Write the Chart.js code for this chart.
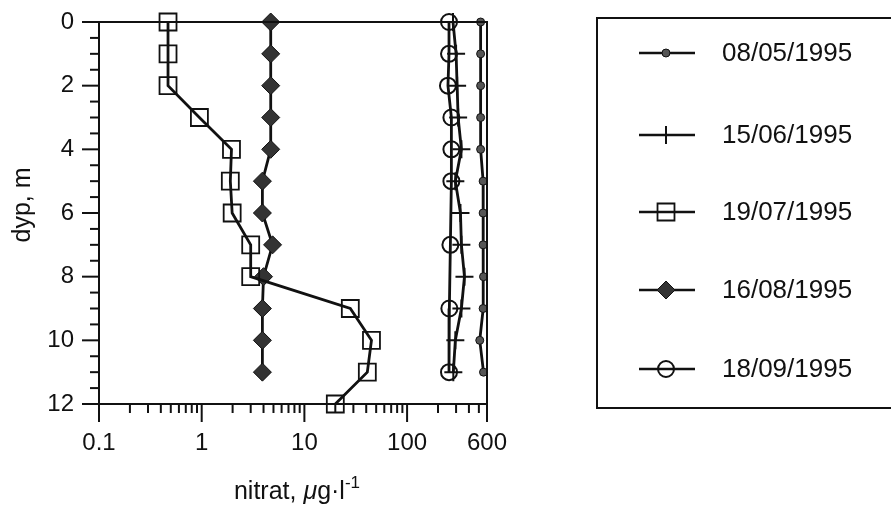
<!DOCTYPE html>
<html>
<head>
  <title>Nitrat depth profile</title>
  <script src="https://cdn.jsdelivr.net/npm/chart.js"></script>
  <style>
    html, body {
      margin: 0;
      padding: 0;
      background: #fff;
    }
    .chart-container {
      width: 891px;
      height: 509px;
    }
  </style>
</head>
<body>
  <div class="chart-container">
    <canvas id="myChart" width="891" height="509"></canvas>
  </div>
  <script>
    // depth in m, one value per metre
    const depths = [0, 1, 2, 3, 4, 5, 6, 7, 8, 9, 10, 11, 12];
    const may08 = [520, 520, 520, 520, 520, 550, 550, 550, 555, 550, 510, 555];
    const jun15 = [280, 300, 307, 314, 338, 295, 331, 338, 362, 338, 295, 282];
    const jul19 = [0.47, 0.47, 0.47, 0.95, 1.95, 1.9, 1.98, 3, 3, 28, 45, 41, 20];
    const aug16 = [4.7, 4.7, 4.7, 4.7, 4.7, 3.9, 3.9, 4.9, 4.0, 3.9, 3.9, 3.9];
    // september was not sampled at every depth
    const sep18Depths = [0, 1, 2, 3, 4, 5, 7, 9, 11];
    const sep18 = [256, 256, 250, 270, 270, 270, 264, 258, 256];
    const seriesNames = ['08/05/1995', '15/06/1995', '19/07/1995', '16/08/1995', '18/09/1995'];
    const xTickLabels = [0.1, 1, 10, 100, 600];
    const yTickLabels = [0, 2, 4, 6, 8, 10, 12];

    const ink = '#111';
    const fontFamily = '"Liberation Sans", Arial, sans-serif';
    Chart.defaults.font.family = fontFamily;
    Chart.defaults.color = ink;

    function toPoints(values, d) {
      return values.map((v, i) => ({ x: v, y: d[i] }));
    }

    function series(name, values, d, style) {
      return Object.assign({
        label: name,
        data: toPoints(values, d),
        showLine: true,
        borderColor: ink,
        borderWidth: 2.8,
        pointBorderColor: ink,
        tension: 0,
        clip: false
      }, style);
    }

    const datasets = [
      series(seriesNames[0], may08, depths, { pointStyle: 'circle', pointRadius: 4, pointBackgroundColor: '#555', pointBorderWidth: 1 }),
      series(seriesNames[1], jun15, depths, { pointStyle: 'cross', pointRadius: 9, pointBackgroundColor: ink, pointBorderWidth: 2 }),
      series(seriesNames[2], jul19, depths, { pointStyle: 'rect', pointRadius: 12, pointBackgroundColor: 'rgba(0,0,0,0)', pointBorderWidth: 1.8 }),
      series(seriesNames[3], aug16, depths, { pointStyle: 'rectRot', pointRadius: 9, pointBackgroundColor: '#333', pointBorderWidth: 1 }),
      series(seriesNames[4], sep18, sep18Depths, { pointStyle: 'circle', pointRadius: 8, pointBackgroundColor: 'rgba(0,0,0,0)', pointBorderWidth: 2 })
    ];

    function stroke(ctx, x1, y1, x2, y2) {
      ctx.beginPath();
      ctx.moveTo(x1, y1);
      ctx.lineTo(x2, y2);
      ctx.stroke();
    }

    // frame, tick marks, x title and the boxed legend
    const extras = {
      id: 'extras',
      afterDraw(chart) {
        const { ctx, chartArea: a, scales: { x, y } } = chart;
        ctx.save();
        ctx.strokeStyle = ink;
        ctx.lineWidth = 2;
        ctx.strokeRect(a.left, a.top, a.right - a.left, a.bottom - a.top);

        for (let d = 0; d <= 12; d += 0.5) {
          const py = y.getPixelForValue(d);
          stroke(ctx, a.left - (d % 2 === 0 ? 17 : 9), py, a.left, py);
        }
        for (let e = -1; e <= 2; e++) {
          for (let m = 1; m <= 9; m++) {
            const v = m * Math.pow(10, e);
            if (v > 600) break;
            const px = x.getPixelForValue(v);
            stroke(ctx, px, a.bottom, px, a.bottom + (m === 1 ? 18 : 9));
          }
        }
        const p600 = x.getPixelForValue(600);
        stroke(ctx, p600, a.bottom, p600, a.bottom + 18);

        // y title, placed by hand a bit above the axis centre
        ctx.save();
        ctx.translate(23, 205);
        ctx.rotate(-Math.PI / 2);
        ctx.font = '25px ' + fontFamily;
        ctx.fillStyle = ink;
        ctx.textAlign = 'center';
        ctx.textBaseline = 'middle';
        ctx.fillText('dyp, m', 0, 0);
        ctx.restore();

        // x title with italic mu and superscript
        const parts = [
          ['nitrat, ', '25px ' + fontFamily, 0],
          ['\u03bc', 'italic 25px ' + fontFamily, 0],
          ['g\u00b7l', '25px ' + fontFamily, 0],
          ['-1', '17px ' + fontFamily, -11]
        ];
        let w = 0;
        parts.forEach(p => { ctx.font = p[1]; w += ctx.measureText(p[0]).width; });
        let tx = (a.left + a.right) / 2 + 4 - w / 2;
        ctx.fillStyle = ink;
        ctx.textBaseline = 'alphabetic';
        ctx.textAlign = 'left';
        parts.forEach(p => {
          ctx.font = p[1];
          ctx.fillText(p[0], tx, 499 + p[2]);
          tx += ctx.measureText(p[0]).width;
        });

        // legend
        ctx.lineWidth = 2;
        ctx.strokeRect(597, 18, 320, 390);
        const rows = [53, 135, 212, 290, 369];
        ctx.font = '26px ' + fontFamily;
        ctx.textBaseline = 'middle';
        chart.data.datasets.forEach((ds, i) => {
          const ry = rows[i];
          ctx.strokeStyle = ink;
          ctx.lineWidth = 2.5;
          stroke(ctx, 639, ry, 695, ry);
          ctx.fillStyle = ds.pointBackgroundColor;
          ctx.strokeStyle = ds.pointBorderColor;
          ctx.lineWidth = ds.pointBorderWidth;
          Chart.helpers.drawPoint(ctx, {
            pointStyle: ds.pointStyle,
            radius: ds.pointRadius,
            rotation: 0,
            borderWidth: ds.pointBorderWidth
          }, 666, ry);
          ctx.fillStyle = ink;
          ctx.fillText(ds.label, 722, ry + 1);
        });
        ctx.restore();
      }
    };

    const ctx = document.getElementById('myChart').getContext('2d');
    const chart = new Chart(ctx, {
      type: 'scatter',
      data: { datasets: datasets },
      options: {
        responsive: false,
        animation: false,
        layout: { padding: { top: 22, right: 404, left: 0, bottom: 0 } },
        plugins: {
          legend: { display: false },
          tooltip: { enabled: false }
        },
        scales: {
          x: {
            type: 'logarithmic',
            min: 0.1,
            max: 600,
            grid: { display: false },
            border: { display: false },
            afterBuildTicks: s => { s.ticks = xTickLabels.map(v => ({ value: v })); },
            afterFit: s => { s.height = 105; },
            ticks: {
              autoSkip: false,
              maxRotation: 0,
              padding: 17,
              font: { size: 24 },
              color: ink,
              callback: v => String(v)
            }
          },
          y: {
            type: 'linear',
            min: 0,
            max: 12,
            reverse: true,
            grid: { display: false },
            border: { display: false },
            afterBuildTicks: s => { s.ticks = yTickLabels.map(v => ({ value: v })); },
            afterFit: s => { s.width = 99; s.paddingTop = 0; s.paddingBottom = 0; },
            ticks: {
              padding: 17,
              font: { size: 24, lineHeight: 0.4 },
              color: ink
            }
          }
        }
      },
      plugins: [extras]
    });
  </script>
</body>
</html>
